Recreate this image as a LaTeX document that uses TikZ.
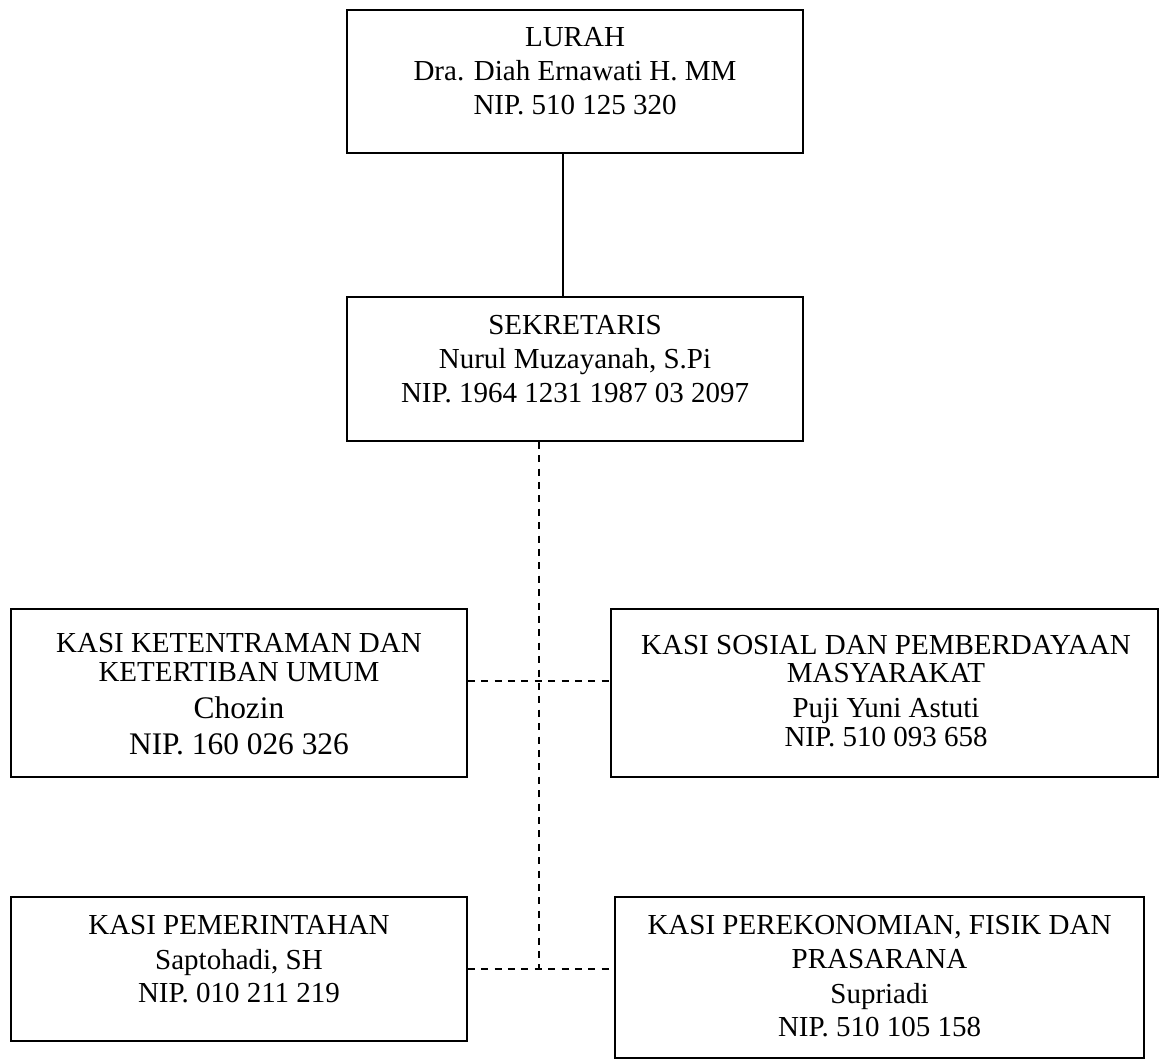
\documentclass[tikz,border=0pt]{standalone}
\usepackage{fontspec}
\setmainfont{Liberation Serif}
\begin{document}
\begin{tikzpicture}[x=0.5pt,y=-0.5pt,
  orgbox/.style={draw, line width=0.7pt, rectangle, inner sep=0pt},
  ln/.style={anchor=base, inner sep=0pt, font=\fontsize{14.5pt}{17pt}\selectfont},
  lnb/.style={anchor=base, inner sep=0pt, font=\fontsize{15.7pt}{19pt}\selectfont},
  solidline/.style={line width=0.7pt},
  dsh/.style={line width=0.7pt, dash pattern=on 3.5pt off 3.2pt}]
\useasboundingbox (0,0) rectangle (1160,1060);

% boxes
\node[orgbox, minimum width=228pt, minimum height=71.5pt] (lurah) at (575,81.5) {};
\node[orgbox, minimum width=228pt, minimum height=72pt] (sek) at (575,369) {};
\node[orgbox, minimum width=228pt, minimum height=84pt] (ktb) at (239,693) {};
\node[orgbox, minimum width=273.5pt, minimum height=84pt] (sos) at (884.5,693) {};
\node[orgbox, minimum width=228pt, minimum height=72pt] (pem) at (239,969) {};
\node[orgbox, minimum width=264.5pt, minimum height=80.5pt] (eko) at (879.5,977.5) {};

% texts
\node[ln] (lurahA) at (575,46.5) {LURAH};
\node[ln] (lurahB) at (575,80.5) {Dra. Diah Ernawati H. MM};
\node[ln] (lurahC) at (575,114.5) {NIP. 510 125 320};

\node[ln] (sekA) at (575,334.5) {SEKRETARIS};
\node[ln] (sekB) at (575,368.5) {Nurul Muzayanah, S.Pi};
\node[ln] (sekC) at (575,402.5) {NIP. 1964 1231 1987 03 2097};

\node[ln] (ktbA) at (239,652.5) {KASI KETENTRAMAN DAN};
\node[ln] (ktbB) at (239,681.5) {KETERTIBAN UMUM};
\node[lnb] (ktbC) at (239,718.5) {Chozin};
\node[lnb] (ktbD) at (239,754) {NIP. 160 026 326};

\node[ln] (sosA) at (886,654.5) {KASI SOSIAL DAN PEMBERDAYAAN};
\node[ln] (sosB) at (886,682.5) {MASYARAKAT};
\node[ln] (sosC) at (886,717.5) {Puji Yuni Astuti};
\node[ln] (sosD) at (886,746.5) {NIP. 510 093 658};

\node[ln] (pemA) at (239,934.5) {KASI PEMERINTAHAN};
\node[ln] (pemB) at (239,969.5) {Saptohadi, SH};
\node[ln] (pemC) at (239,1002.5) {NIP. 010 211 219};

\node[ln] (ekoA) at (879.5,934.5) {KASI PEREKONOMIAN, FISIK DAN};
\node[ln] (ekoB) at (879.5,968.5) {PRASARANA};
\node[ln] (ekoC) at (879.5,1003.5) {Supriadi};
\node[ln] (ekoD) at (879.5,1036.5) {NIP. 510 105 158};

% connectors
\coordinate (cx) at (563,0);
\draw[solidline] (lurah.south -| cx) -- (sek.north -| cx);

\coordinate (j1) at (539,681);
\coordinate (j2) at (539,969);
\draw[dsh] (sek.south -| j1) -- (j2);
\draw[dsh] (ktb.east |- j1) -- (sos.west |- j1);
\draw[dsh] (pem.east |- j2) -- (eko.west |- j2);
\end{tikzpicture}
\end{document}
